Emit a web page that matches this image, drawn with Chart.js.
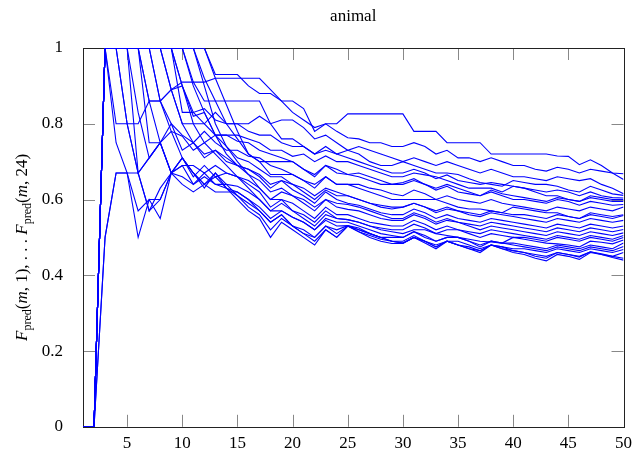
<!DOCTYPE html>
<html>
<head>
<meta charset="utf-8">
<script src="https://cdn.jsdelivr.net/npm/chart.js@4.4.1/dist/chart.umd.min.js"></script>
<style>
  html, body { margin: 0; padding: 0; background: #fff; }
  #wrap { width: 639px; height: 457px; }
</style>
</head>
<body>
<div id="wrap"><canvas id="chart" width="639" height="457"></canvas></div>
<script>
const steps = [1,2,3,4,5,6,7,8,9,10,11,12,13,14,15,16,17,18,19,20,21,22,23,24,25,26,27,28,29,30,31,32,33,34,35,36,37,38,39,40,41,42,43,44,45,46,47,48,49,50];
const xTicks = [5,10,15,20,25,30,35,40,45,50];
const yTicks = [0,0.2,0.4,0.6,0.8,1];
const chartTitle = "animal";

// one array per k = 1..24, value at each m
const s1 = [0,0,1,1,1,1,1,1,1,1,1,1,0.93,0.93,0.93,0.9,0.88,0.88,0.86,0.86,0.84,0.78,0.8,0.8,0.826,0.826,0.826,0.826,0.826,0.826,0.78,0.78,0.78,0.75,0.75,0.75,0.75,0.72,0.72,0.72,0.72,0.72,0.72,0.715,0.714,0.692,0.705,0.69,0.67,0.653];
const s2 = [0,0,1,1,1,1,1,1,1,0.83,0.83,0.8,0.83,0.8,0.8,0.8,0.82,0.8,0.81,0.81,0.79,0.76,0.77,0.75,0.73,0.74,0.73,0.72,0.71,0.70,0.71,0.70,0.69,0.70,0.69,0.68,0.67,0.68,0.67,0.66,0.66,0.655,0.65,0.66,0.655,0.65,0.655,0.64,0.63,0.615];
const s3 = [0,0,1,0.8,0.8,0.8,0.86,0.86,0.89,0.91,0.91,0.91,0.92,0.92,0.92,0.92,0.92,0.89,0.86,0.83,0.81,0.79,0.8,0.78,0.763,0.76,0.75,0.75,0.74,0.74,0.75,0.74,0.72,0.73,0.71,0.71,0.70,0.71,0.70,0.69,0.69,0.68,0.675,0.685,0.68,0.67,0.68,0.675,0.67,0.668];
const s4 = [0,0,1,1,1,1,1,1,1,1,0.91,0.86,0.86,0.86,0.86,0.86,0.86,0.8,0.76,0.76,0.74,0.72,0.74,0.72,0.73,0.72,0.70,0.69,0.69,0.70,0.69,0.68,0.67,0.67,0.666,0.655,0.645,0.64,0.635,0.65,0.645,0.64,0.64,0.635,0.625,0.62,0.635,0.625,0.615,0.611];
const s5 = [0,0,1,1,1,1,1,1,0.89,0.9,0.83,0.84,0.81,0.8,0.8,0.78,0.77,0.77,0.75,0.74,0.74,0.72,0.73,0.72,0.71,0.70,0.69,0.68,0.67,0.67,0.68,0.67,0.655,0.665,0.65,0.645,0.64,0.645,0.64,0.635,0.63,0.625,0.62,0.625,0.62,0.61,0.62,0.61,0.605,0.604];
const s6 = [0,0,1,1,1,1,1,1,1,0.9,0.82,0.83,0.77,0.77,0.77,0.76,0.75,0.73,0.73,0.714,0.72,0.70,0.715,0.70,0.70,0.69,0.68,0.67,0.66,0.66,0.67,0.665,0.66,0.65,0.64,0.63,0.63,0.63,0.62,0.635,0.63,0.62,0.61,0.61,0.6,0.595,0.61,0.605,0.6,0.6];
const s7 = [0,0,1,1,1,1,1,0.86,0.89,0.8,0.8,0.8,0.77,0.77,0.754,0.75,0.73,0.72,0.71,0.70,0.68,0.66,0.69,0.67,0.666,0.66,0.65,0.64,0.64,0.645,0.655,0.64,0.63,0.64,0.63,0.62,0.61,0.625,0.615,0.61,0.605,0.60,0.595,0.605,0.60,0.595,0.605,0.60,0.595,0.595];
const s8 = [0,0,1,1,1,1,1,1,1,1,1,0.92,0.86,0.8,0.76,0.72,0.70,0.70,0.70,0.70,0.68,0.666,0.69,0.68,0.666,0.67,0.66,0.65,0.64,0.64,0.65,0.64,0.625,0.635,0.62,0.615,0.61,0.62,0.61,0.60,0.60,0.595,0.59,0.60,0.595,0.585,0.595,0.59,0.585,0.587];
const s9 = [0,0,1,1,1,1,0.75,0.75,0.8,0.77,0.75,0.78,0.75,0.73,0.73,0.714,0.71,0.69,0.68,0.666,0.65,0.63,0.66,0.64,0.64,0.64,0.63,0.625,0.615,0.61,0.625,0.615,0.60,0.61,0.60,0.595,0.59,0.60,0.59,0.585,0.58,0.575,0.57,0.58,0.575,0.57,0.58,0.575,0.57,0.58];
const s10 = [0,0,1,1,1,1,1,1,1,1,1,1,0.92,0.85,0.78,0.72,0.70,0.666,0.666,0.666,0.65,0.64,0.66,0.64,0.64,0.63,0.62,0.61,0.60,0.60,0.6,0.6,0.6,0.59,0.58,0.575,0.575,0.57,0.565,0.58,0.575,0.57,0.565,0.565,0.555,0.55,0.565,0.56,0.555,0.56];
const s11 = [0,0,1,1,1,0.67,0.71,0.75,0.78,0.767,0.73,0.75,0.77,0.74,0.71,0.70,0.68,0.66,0.66,0.64,0.63,0.61,0.63,0.62,0.61,0.60,0.59,0.585,0.58,0.58,0.59,0.58,0.57,0.58,0.57,0.565,0.56,0.57,0.565,0.56,0.56,0.555,0.55,0.56,0.555,0.55,0.56,0.555,0.55,0.558];
const s12 = [0,0,1,1,1,1,1,1,1,1,0.9,0.83,0.77,0.72,0.69,0.68,0.666,0.64,0.65,0.64,0.62,0.60,0.625,0.61,0.61,0.60,0.59,0.58,0.575,0.58,0.59,0.58,0.565,0.575,0.57,0.56,0.555,0.565,0.56,0.555,0.55,0.545,0.54,0.55,0.545,0.54,0.55,0.545,0.54,0.545];
const s13 = [0,0,1,1,1,1,0.86,0.86,0.8,0.73,0.75,0.71,0.73,0.71,0.69,0.68,0.66,0.63,0.65,0.626,0.61,0.59,0.62,0.60,0.59,0.585,0.575,0.565,0.56,0.56,0.575,0.565,0.55,0.56,0.55,0.545,0.54,0.55,0.545,0.54,0.535,0.53,0.525,0.535,0.53,0.525,0.535,0.53,0.525,0.53];
const s14 = [0,0,1,1,1,1,1,1,0.89,0.8,0.75,0.72,0.73,0.7,0.69,0.666,0.65,0.62,0.63,0.61,0.6,0.58,0.6,0.59,0.587,0.58,0.57,0.56,0.55,0.55,0.565,0.555,0.54,0.55,0.54,0.535,0.53,0.54,0.535,0.53,0.525,0.52,0.515,0.525,0.52,0.515,0.525,0.52,0.515,0.521];
const s15 = [0,0,1,1,0.8,0.67,0.71,0.75,0.67,0.69,0.69,0.67,0.69,0.67,0.66,0.65,0.63,0.6,0.62,0.61,0.59,0.57,0.6,0.58,0.574,0.57,0.56,0.55,0.545,0.545,0.56,0.55,0.535,0.545,0.54,0.53,0.52,0.53,0.525,0.52,0.515,0.51,0.505,0.515,0.51,0.505,0.515,0.51,0.505,0.512];
const s16 = [0,0,1,1,1,1,1,0.86,0.78,0.71,0.66,0.69,0.66,0.67,0.66,0.64,0.62,0.58,0.6,0.59,0.57,0.55,0.58,0.56,0.56,0.55,0.54,0.535,0.53,0.53,0.545,0.535,0.52,0.53,0.52,0.515,0.51,0.52,0.515,0.51,0.505,0.5,0.495,0.505,0.5,0.495,0.505,0.5,0.495,0.505];
const s17 = [0,0,1,1,1,1,1,1,1,1,1,0.9,0.8,0.74,0.7,0.666,0.63,0.6,0.6,0.57,0.56,0.54,0.57,0.55,0.547,0.54,0.53,0.525,0.52,0.52,0.535,0.525,0.51,0.52,0.52,0.51,0.5,0.51,0.505,0.5,0.5,0.495,0.49,0.5,0.495,0.49,0.5,0.495,0.49,0.5];
const s18 = [0,0,1,1,1,0.83,0.71,0.75,0.67,0.66,0.64,0.67,0.64,0.64,0.635,0.62,0.6,0.57,0.59,0.57,0.55,0.53,0.56,0.55,0.547,0.54,0.53,0.52,0.515,0.51,0.52,0.52,0.51,0.505,0.5,0.495,0.49,0.488,0.485,0.5,0.495,0.49,0.485,0.483,0.48,0.475,0.49,0.487,0.483,0.493];
const s19 = [0,0,1,1,1,1,1,1,1,0.9,0.8,0.75,0.72,0.69,0.66,0.63,0.6,0.57,0.57,0.553,0.54,0.52,0.55,0.54,0.54,0.53,0.52,0.51,0.505,0.5,0.515,0.505,0.49,0.5,0.5,0.49,0.48,0.49,0.485,0.485,0.48,0.475,0.47,0.48,0.475,0.47,0.48,0.475,0.47,0.485];
const s20 = [0,0,1,1,0.8,0.67,0.57,0.63,0.67,0.64,0.62,0.64,0.62,0.62,0.62,0.6,0.58,0.55,0.57,0.553,0.54,0.52,0.545,0.53,0.531,0.525,0.51,0.5,0.5,0.5,0.515,0.5,0.49,0.5,0.5,0.49,0.475,0.49,0.485,0.48,0.475,0.47,0.465,0.475,0.47,0.465,0.475,0.47,0.465,0.476];
const s21 = [0,0,1,1,1,1,0.86,0.75,0.67,0.69,0.64,0.66,0.64,0.63,0.62,0.6,0.57,0.54,0.56,0.53,0.52,0.5,0.53,0.52,0.531,0.52,0.51,0.5,0.49,0.49,0.505,0.49,0.48,0.49,0.49,0.48,0.47,0.48,0.475,0.47,0.47,0.465,0.46,0.47,0.465,0.46,0.47,0.465,0.46,0.468];
const s22 = [0,0,1,0.75,0.67,0.67,0.57,0.6,0.67,0.71,0.67,0.64,0.66,0.63,0.61,0.59,0.57,0.54,0.56,0.53,0.51,0.5,0.53,0.51,0.53,0.515,0.505,0.495,0.49,0.485,0.5,0.49,0.475,0.49,0.48,0.475,0.465,0.48,0.47,0.465,0.46,0.455,0.45,0.46,0.455,0.45,0.462,0.455,0.45,0.46];
const s23 = [0,0,0.5,0.67,0.67,0.57,0.6,0.6,0.67,0.71,0.67,0.64,0.67,0.64,0.61,0.58,0.56,0.52,0.55,0.53,0.51,0.49,0.52,0.5,0.53,0.52,0.51,0.5,0.49,0.485,0.5,0.49,0.475,0.49,0.48,0.47,0.465,0.48,0.475,0.465,0.46,0.45,0.445,0.46,0.455,0.448,0.462,0.457,0.45,0.445];
const s24 = [0,0,0.5,0.67,0.67,0.5,0.6,0.55,0.67,0.71,0.67,0.63,0.67,0.63,0.6,0.57,0.55,0.5,0.54,0.52,0.5,0.48,0.52,0.5,0.53,0.515,0.5,0.49,0.484,0.484,0.5,0.485,0.47,0.49,0.48,0.47,0.46,0.48,0.47,0.46,0.455,0.445,0.438,0.455,0.45,0.442,0.46,0.455,0.447,0.44];

const allSeries = [s1,s2,s3,s4,s5,s6,s7,s8,s9,s10,s11,s12,s13,s14,s15,s16,s17,s18,s19,s20,s21,s22,s23,s24];

const serif = "'Liberation Serif', 'DejaVu Serif', serif";

// gnuplot-like box, inward ticks, title and the y label with subscripts
const gnuplotFrame = {
  id: 'gnuplotFrame',
  beforeDatasetsDraw(chart) {
    const { ctx, chartArea: a, scales } = chart;
    ctx.save();
    ctx.strokeStyle = '#888';
    ctx.lineWidth = 1;
    ctx.beginPath();
    xTicks.forEach(v => {
      const px = Math.round(scales.x.getPixelForValue(v)) + 0.5;
      ctx.moveTo(px, a.bottom); ctx.lineTo(px, a.bottom - 12);
      ctx.moveTo(px, a.top); ctx.lineTo(px, a.top + 12);
    });
    yTicks.forEach(v => {
      const py = Math.round(scales.y.getPixelForValue(v)) + 0.5;
      ctx.moveTo(a.left, py); ctx.lineTo(a.left + 12, py);
      ctx.moveTo(a.right, py); ctx.lineTo(a.right - 12, py);
    });
    ctx.stroke();
    ctx.strokeStyle = '#222';
    ctx.strokeRect(Math.round(a.left) + 0.5, Math.round(a.top) + 0.5,
                   Math.round(a.right - a.left), Math.round(a.bottom - a.top));
    ctx.restore();
  },
  afterDraw(chart) {
    const { ctx, chartArea: a } = chart;
    ctx.save();
    ctx.fillStyle = '#000';
    ctx.font = '17px ' + serif;
    ctx.textAlign = 'center';
    ctx.textBaseline = 'alphabetic';
    ctx.fillText(chartTitle, (a.left + a.right) / 2, 21);

    // y label: F_pred(m,1), ... F_pred(m,24)
    const parts = [
      { t: 'F', f: 'italic 17px ' + serif, dy: 0 },
      { t: 'pred', f: '12px ' + serif, dy: 4 },
      { t: '(', f: '17px ' + serif, dy: 0 },
      { t: 'm', f: 'italic 17px ' + serif, dy: 0 },
      { t: ', 1), . . . ', f: '17px ' + serif, dy: 0 },
      { t: 'F', f: 'italic 17px ' + serif, dy: 0 },
      { t: 'pred', f: '12px ' + serif, dy: 4 },
      { t: '(', f: '17px ' + serif, dy: 0 },
      { t: 'm', f: 'italic 17px ' + serif, dy: 0 },
      { t: ', 24)', f: '17px ' + serif, dy: 0 }
    ];
    let total = 0;
    parts.forEach(p => { ctx.font = p.f; p.w = ctx.measureText(p.t).width; total += p.w; });
    ctx.translate(27, (a.top + a.bottom) / 2 + 10);
    ctx.rotate(-Math.PI / 2);
    ctx.textAlign = 'left';
    let x = -total / 2;
    parts.forEach(p => {
      ctx.font = p.f;
      ctx.fillText(p.t, x, p.dy);
      x += p.w;
    });
    ctx.restore();
  }
};

const tickFont = { family: serif, size: 17 };

new Chart(document.getElementById('chart'), {
  type: 'line',
  data: {
    datasets: allSeries.map(s => ({
      data: s.map((v, i) => ({ x: steps[i], y: v })),
      borderColor: '#0000ff',
      borderWidth: 1.1,
      pointRadius: 0,
      tension: 0,
      fill: false
    }))
  },
  options: {
    responsive: false,
    animation: false,
    layout: { padding: { top: 48, right: 12, left: 0, bottom: 0 } },
    plugins: {
      legend: { display: false },
      tooltip: { enabled: false },
      title: { display: false }
    },
    scales: {
      x: {
        type: 'linear',
        min: 1,
        max: 50,
        afterBuildTicks: axis => { axis.ticks = xTicks.map(v => ({ value: v })); },
        afterFit: s => { s.height = 29; },
        grid: { display: false, drawTicks: false },
        border: { display: false },
        ticks: { font: tickFont, color: '#000', padding: 7, maxRotation: 0, autoSkip: false }
      },
      y: {
        type: 'linear',
        min: 0,
        max: 1,
        afterBuildTicks: axis => { axis.ticks = yTicks.map(v => ({ value: v })); },
        afterFit: s => { s.width = 83; },
        grid: { display: false, drawTicks: false },
        border: { display: false },
        ticks: { font: tickFont, color: '#000', padding: 20, callback: v => String(v) }
      }
    }
  },
  plugins: [gnuplotFrame]
});
</script>
</body>
</html>
